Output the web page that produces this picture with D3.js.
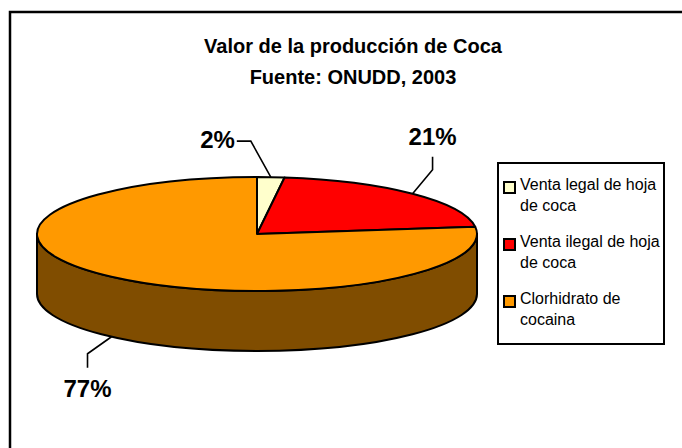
<!DOCTYPE html>
<html>
<head>
<meta charset="utf-8">
<script src="https://cdn.jsdelivr.net/npm/d3@7"></script>
<style>
  body { margin: 0; background: #fff; }
  svg { display: block; font-family: Arial, "Liberation Sans", sans-serif; }
</style>
</head>
<body>
<div id="chart"></div>
<script>
// 3D pie: value of coca production (UNODC 2003)
const width = 682;
const height = 448;

const titleLines = ["Valor de la producción de Coca", "Fuente: ONUDD, 2003"];
const categories = ["Venta legal de hoja de coca", "Venta ilegal de hoja de coca", "Clorhidrato de cocaina"];
const values = [2, 21, 77];
const colors = ["#FFFFCC", "#FF0000", "#FF9900"];

const svg = d3.select("#chart")
    .append("svg")
    .attr("width", width)
    .attr("height", height);

// outer chart frame, runs off the right and bottom edges
svg.append("rect")
    .attr("x", 10)
    .attr("y", 12)
    .attr("width", width)
    .attr("height", height)
    .attr("fill", "none")
    .attr("stroke", "#000")
    .attr("stroke-width", 2.5);

// title
svg.append("text")
    .attr("text-anchor", "middle")
    .style("font-size", "20px")
    .style("font-weight", "bold")
    .selectAll("tspan")
    .data(titleLines)
    .join("tspan")
    .attr("x", 353)
    .attr("y", (d, i) => 53 + i * 31)
    .text(d => d);

// pie geometry (ellipse top + extruded side)
const cx = 257, cy = 234, rx = 220, ry = 57, depth = 60;
const pie = d3.pie().sort(null).value(d => d);
const arcs = pie(values);
const pt = (a, dy = 0) => [cx + rx * Math.sin(a), cy - ry * Math.cos(a) + dy];

const sideColor = c => {
    const k = d3.rgb(c);
    return d3.rgb(k.r * 0.5, k.g * 0.5, k.b * 0.5).formatHex();
};

const pieG = svg.append("g")
    .attr("stroke", "#000")
    .attr("stroke-width", 2)
    .attr("stroke-linejoin", "round");

// visible front walls (angles between 90 and 270 degrees)
arcs.forEach((d, i) => {
    const a1 = Math.max(d.startAngle, Math.PI / 2);
    const a2 = Math.min(d.endAngle, 3 * Math.PI / 2);
    if (a2 <= a1) return;
    const [x1, y1] = pt(a1), [x2, y2] = pt(a2);
    const [bx1, by1] = pt(a1, depth), [bx2, by2] = pt(a2, depth);
    pieG.append("path")
        .attr("d", `M${x1},${y1}A${rx},${ry} 0 0,1 ${x2},${y2}L${bx2},${by2}A${rx},${ry} 0 0,0 ${bx1},${by1}Z`)
        .attr("fill", sideColor(colors[i]));
});

// top faces
pieG.selectAll("path.top")
    .data(arcs)
    .join("path")
    .attr("class", "top")
    .attr("d", d => {
        const [x1, y1] = pt(d.startAngle), [x2, y2] = pt(d.endAngle);
        const large = d.endAngle - d.startAngle > Math.PI ? 1 : 0;
        return `M${cx},${cy}L${x1},${y1}A${rx},${ry} 0 ${large},1 ${x2},${y2}Z`;
    })
    .attr("fill", (d, i) => colors[i]);

// data labels with leader lines
const labelLayout = [
    { elbow: [-20, -36], end: [-34, -36], text: [-36, -29], anchor: "end" },
    { elbow: [20, -24], end: [20, -37], text: [20, -49], anchor: "middle" },
    { elbow: [-24, 17], end: [-24, 31], text: [-24, 60], anchor: "middle" }
];

arcs.forEach((d, i) => {
    const m = (d.startAngle + d.endAngle) / 2;
    const front = m > Math.PI / 2 && m < 3 * Math.PI / 2;
    const [ax, ay] = pt(m, front ? depth : 0);
    const L = labelLayout[i];
    svg.append("path")
        .attr("d", `M${ax},${ay}L${ax + L.elbow[0]},${ay + L.elbow[1]}L${ax + L.end[0]},${ay + L.end[1]}`)
        .attr("fill", "none")
        .attr("stroke", "#000")
        .attr("stroke-width", 1.6);
    svg.append("text")
        .attr("x", ax + L.text[0])
        .attr("y", ay + L.text[1])
        .attr("text-anchor", L.anchor)
        .style("font-size", "24px")
        .style("font-weight", "bold")
        .text(`${d.data}%`);
});

// legend
const legend = svg.append("g");
legend.append("rect")
    .attr("x", 498)
    .attr("y", 163)
    .attr("width", 166)
    .attr("height", 181)
    .attr("fill", "#fff")
    .attr("stroke", "#000")
    .attr("stroke-width", 2);

const wrap = (text, maxW) => {
    const probe = svg.append("text").style("font-size", "16px");
    const words = text.split(" ");
    const lines = [];
    let cur = words[0];
    for (const w of words.slice(1)) {
        probe.text(cur + " " + w);
        if (probe.node().getComputedTextLength() > maxW) { lines.push(cur); cur = w; }
        else cur = cur + " " + w;
    }
    lines.push(cur);
    probe.remove();
    return lines;
};

categories.forEach((c, i) => {
    const y0 = 190 + i * 57;
    legend.append("rect")
        .attr("x", 504)
        .attr("y", y0 - 8)
        .attr("width", 11)
        .attr("height", 11)
        .attr("fill", colors[i])
        .attr("stroke", "#000")
        .attr("stroke-width", 2);
    legend.append("text")
        .style("font-size", "16px")
        .selectAll("tspan")
        .data(wrap(c, 145))
        .join("tspan")
        .attr("x", 520)
        .attr("y", (d, j) => y0 + j * 21)
        .text(d => d);
});
</script>
</body>
</html>
